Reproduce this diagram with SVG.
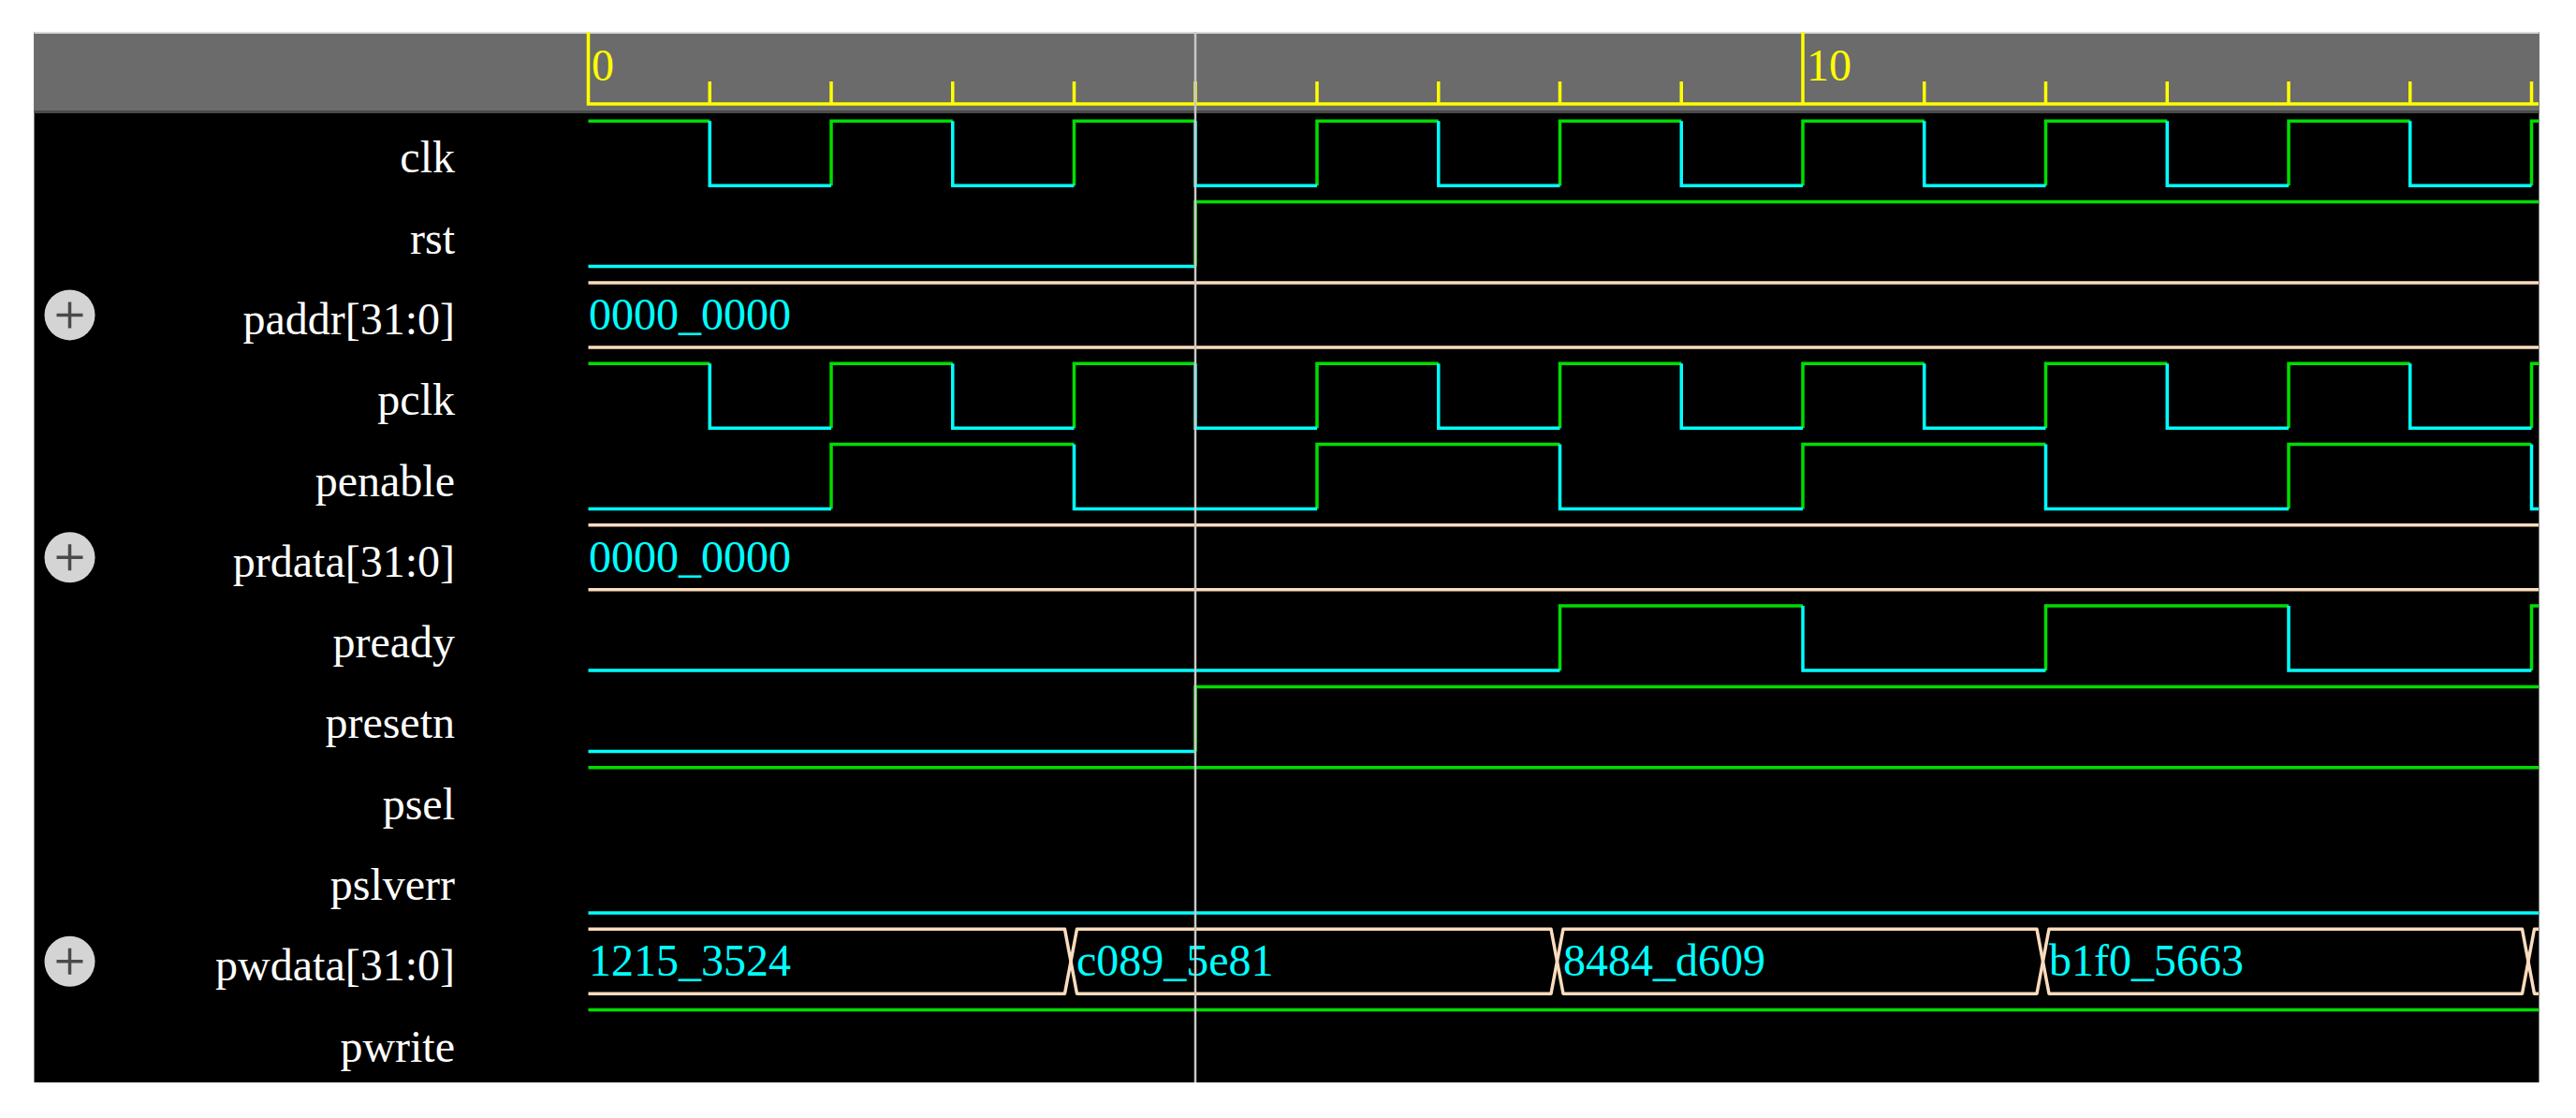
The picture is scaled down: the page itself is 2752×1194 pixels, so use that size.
<svg xmlns="http://www.w3.org/2000/svg" width="2752" height="1194" viewBox="0 0 2752 1194">
<style>
.lbl{font-family:"Liberation Serif","Times New Roman",serif;font-size:48px;fill:#ffffff;text-anchor:end}
.val{font-family:"Liberation Serif","Times New Roman",serif;font-size:48px;fill:#00ffff}
.axl{font-family:"Liberation Serif","Times New Roman",serif;font-size:48px;fill:#ffff00}
.hi{fill:none;stroke:#00dd00;stroke-width:3.5}
.lo{fill:none;stroke:#00ffff;stroke-width:3.5}
.bus{fill:none;stroke:#fbdcbc;stroke-width:3.5;stroke-linejoin:round}
.ax{stroke:#ffff00;stroke-width:3.5;fill:none}
.exp circle{fill:#d4d4d4}
.exp path{stroke:#4a4a4a;stroke-width:3.5;fill:none}
</style>
<defs>
<clipPath id="wave"><rect x="626" y="120" width="2086" height="1036"/></clipPath>
<path id="clkHi" d="M628.5,0 H758.25 M888,69 V0 H1017.75 M1147.5,69 V0 H1277 M1407,69 V0 H1536.75 M1666.5,69 V0 H1796.25 M1926,69 V0 H2055.75 M2185.5,69 V0 H2315.25 M2445,69 V0 H2574.75 M2704.5,69 V0 H2712"/>
<path id="clkLo" d="M758.25,0 V69 H888 M1017.75,0 V69 H1147.5 M1277,0 V69 H1407 M1536.75,0 V69 H1666.5 M1796.25,0 V69 H1926 M2055.75,0 V69 H2185.5 M2315.25,0 V69 H2445 M2574.75,0 V69 H2704.5"/>
<g id="plus" class="exp"><circle cx="0" cy="0" r="27"/><path d="M-14,0 H14 M0,-14 V14"/></g>
</defs>
<rect x="0" y="0" width="2752" height="1194" fill="#ffffff"/>
<g id="panel">
<rect x="36.5" y="34" width="2676" height="1122" fill="#000000"/>
<rect x="36.5" y="34" width="2676" height="85" fill="#6b6b6b"/>
<line x1="36.5" y1="35" x2="2712.5" y2="35" stroke="#d8d8d8" stroke-width="2"/>
<line x1="36.5" y1="119.5" x2="2712.5" y2="119.5" stroke="#4a4a4a" stroke-width="3"/>
</g>
<g id="axis">
<path class="ax" d="M628.5,34 V111 H2712 M1926,34 V111 M758.25,87 V111 M888,87 V111 M1017.75,87 V111 M1147.5,87 V111 M1277,87 V111 M1407,87 V111 M1536.75,87 V111 M1666.5,87 V111 M1796.25,87 V111 M2055.75,87 V111 M2185.5,87 V111 M2315.25,87 V111 M2445,87 V111 M2574.75,87 V111 M2704.5,87 V111"/>
<text class="axl" x="632" y="86">0</text>
<text class="axl" x="1930" y="86">10</text>
</g>
<g id="labels">
<text class="lbl" x="486" y="184.3">clk</text>
<text class="lbl" x="486" y="270.6">rst</text>
<text class="lbl" x="486" y="356.9">paddr[31:0]</text>
<text class="lbl" x="486" y="443.2">pclk</text>
<text class="lbl" x="486" y="529.5">penable</text>
<text class="lbl" x="486" y="615.8">prdata[31:0]</text>
<text class="lbl" x="486" y="702.1">pready</text>
<text class="lbl" x="486" y="788.4">presetn</text>
<text class="lbl" x="486" y="874.7">psel</text>
<text class="lbl" x="486" y="961">pslverr</text>
<text class="lbl" x="486" y="1047.3">pwdata[31:0]</text>
<text class="lbl" x="486" y="1133.6">pwrite</text>
<use href="#plus" x="74.5" y="336.4"/>
<use href="#plus" x="74.5" y="595.3"/>
<use href="#plus" x="74.5" y="1026.8"/>
</g>
<g id="waves" clip-path="url(#wave)">
<g id="sig-clk" transform="translate(0,129.3)"><use href="#clkHi" class="hi"/><use href="#clkLo" class="lo"/></g>
<g id="sig-rst" transform="translate(0,215.6)"><path class="lo" d="M628.5,69 H1277"/><path class="hi" d="M1277,69 V0 H2712"/></g>
<g id="sig-paddr" transform="translate(0,301.9)"><path class="bus" d="M628.5,0 H2712 M628.5,69 H2712"/><text class="val" x="629" y="50.1">0000_0000</text></g>
<g id="sig-pclk" transform="translate(0,388.2)"><use href="#clkHi" class="hi"/><use href="#clkLo" class="lo"/></g>
<g id="sig-penable" transform="translate(0,474.5)"><path class="hi" d="M888,69 V0 H1147.5 M1407,69 V0 H1666.5 M1926,69 V0 H2185.5 M2445,69 V0 H2704.5"/><path class="lo" d="M628.5,69 H888 M1147.5,0 V69 H1407 M1666.5,0 V69 H1926 M2185.5,0 V69 H2445 M2704.5,0 V69 H2712"/></g>
<g id="sig-prdata" transform="translate(0,560.8)"><path class="bus" d="M628.5,0 H2712 M628.5,69 H2712"/><text class="val" x="629" y="50.1">0000_0000</text></g>
<g id="sig-pready" transform="translate(0,647.1)"><path class="hi" d="M1666.5,69 V0 H1926 M2185.5,69 V0 H2445 M2704.5,69 V0 H2712"/><path class="lo" d="M628.5,69 H1666.5 M1926,0 V69 H2185.5 M2445,0 V69 H2704.5"/></g>
<g id="sig-presetn" transform="translate(0,733.4)"><path class="lo" d="M628.5,69 H1277"/><path class="hi" d="M1277,69 V0 H2712"/></g>
<g id="sig-psel" transform="translate(0,819.7)"><path class="hi" d="M628.5,0 H2712"/></g>
<g id="sig-pslverr" transform="translate(0,906)"><path class="lo" d="M628.5,69 H2712"/></g>
<g id="sig-pwdata" transform="translate(0,992.3)">
<path class="bus" d="M628.5,0 H1137.5 L1144,34.5 L1137.5,69 H628.5"/>
<path class="bus" d="M1150.5,0 H1657 L1663.5,34.5 L1657,69 H1150.5 L1144,34.5 Z"/>
<path class="bus" d="M1670,0 H2176 L2182.5,34.5 L2176,69 H1670 L1663.5,34.5 Z"/>
<path class="bus" d="M2189,0 H2694.5 L2701,34.5 L2694.5,69 H2189 L2182.5,34.5 Z"/>
<path class="bus" d="M2730,0 H2707.5 L2701,34.5 L2707.5,69 H2730"/>
<text class="val" x="629" y="50.2">1215_3524</text>
<text class="val" x="1150" y="50.2">c089_5e81</text>
<text class="val" x="1670" y="50.2">8484_d609</text>
<text class="val" x="2189" y="50.2">b1f0_5663</text>
</g>
<g id="sig-pwrite" transform="translate(0,1078.6)"><path class="hi" d="M628.5,0 H2712"/></g>
</g>
<g id="cursor"><line x1="1277" y1="34" x2="1277" y2="1156" stroke="#c8c8c8" stroke-width="2.5"/></g>
</svg>
